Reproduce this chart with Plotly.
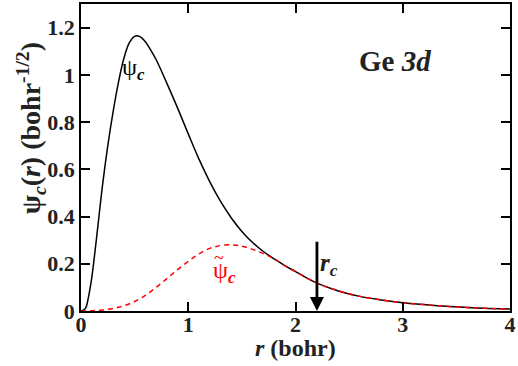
import plotly.graph_objects as go

# all-electron core wavefunction psi_c(r)
r_ae = [0, 0.04, 0.07, 0.1, 0.13, 0.16, 0.2, 0.25, 0.3, 0.35, 0.4, 0.45, 0.5, 0.55, 0.6, 0.65,
        0.7, 0.8, 0.9, 1.0, 1.1, 1.2, 1.3, 1.4, 1.5, 1.6, 1.7, 1.8, 1.9, 2.0, 2.1, 2.2, 2.4,
        2.6, 2.8, 3.0, 3.2, 3.4, 3.6, 3.8, 4.0]
psi_ae = [0, 0.01, 0.06, 0.14, 0.25, 0.37, 0.53, 0.70, 0.845, 0.97, 1.07, 1.135, 1.163, 1.162, 1.14, 1.105,
          1.065, 0.965, 0.86, 0.75, 0.643, 0.548, 0.465, 0.395, 0.337, 0.29, 0.252, 0.221, 0.192, 0.167, 0.141, 0.118, 0.085,
          0.062, 0.047, 0.035, 0.027, 0.02, 0.015, 0.011, 0.008]

# pseudized core wavefunction
r_ps = [0, 0.1, 0.2, 0.3, 0.4, 0.5, 0.6, 0.7, 0.8, 0.9, 1.0, 1.1, 1.2, 1.3, 1.4, 1.5, 1.6,
        1.7, 1.8, 1.9, 2.0, 2.1, 2.2, 2.4, 2.6, 2.8, 3.0, 3.2, 3.4, 3.6, 3.8, 4.0]
psi_ps = [0, 0.001, 0.004, 0.011, 0.022, 0.04, 0.066, 0.1, 0.137, 0.175, 0.21, 0.242, 0.265, 0.277, 0.28, 0.274, 0.261,
          0.243, 0.221, 0.192, 0.167, 0.141, 0.118, 0.085, 0.062, 0.047, 0.035, 0.027, 0.02, 0.015, 0.011, 0.008]

r_cut = 2.2
x_ticks = [0, 1, 2, 3, 4]
x_ticktext = ["0", "1", "2", "3", "4"]
y_ticks = [0, 0.2, 0.4, 0.6, 0.8, 1.0, 1.2]
y_ticktext = ["0", "0.2", "0.4", "0.6", "0.8", "1", "1.2"]

FONT = "Liberation Serif, Times New Roman, serif"
INK = "#222"

fig = go.Figure()
fig.add_trace(go.Scatter(x=r_ae, y=psi_ae, mode="lines", line=dict(color="black", width=1.5, shape="spline"),
                         showlegend=False))
fig.add_trace(go.Scatter(x=r_ps, y=psi_ps, mode="lines",
                         line=dict(color="#ff0000", width=1.5, dash="5px,4px", shape="spline"),
                         showlegend=False))

axis_common = dict(showline=True, linecolor="black", linewidth=1.8, mirror="ticks",
                   ticks="inside", ticklen=9, tickwidth=1.5, tickcolor="black",
                   showgrid=False, zeroline=False, ticklabeloverflow="allow",
                   tickfont=dict(family=FONT, size=22, color=INK, weight="bold"))

fig.update_xaxes(range=[0, 4], tickvals=x_ticks, ticktext=x_ticktext, ticklabelstandoff=-7, **axis_common)
fig.update_yaxes(range=[0, 1.3], tickvals=y_ticks, ticktext=y_ticktext, **axis_common)

ann = [
    dict(x=r_cut, y=0, ax=r_cut, ay=0.30, xref="x", yref="y", axref="x", ayref="y",
         showarrow=True, arrowhead=2, arrowsize=1, arrowwidth=2.8, arrowcolor="black", text=""),
    dict(x=0.49, y=1.023, xref="x", yref="y", showarrow=False,
         text="ψ<sub><b><i>c</i></b></sub>", font=dict(family=FONT, size=24, color="black")),
    dict(x=1.34, y=0.164, xref="x", yref="y", showarrow=False,
         text="ψ<sub><b><i>c</i></b></sub>", font=dict(family=FONT, size=24, color="#ff0000")),
    dict(x=1.29, y=0.226, xref="x", yref="y", showarrow=False,
         text="~", font=dict(family=FONT, size=18, color="#ff0000")),
    dict(x=2.31, y=0.198, xref="x", yref="y", showarrow=False,
         text="<b><i>r</i></b><sub><b><i>c</i></b></sub>", font=dict(family=FONT, size=25, color=INK)),
    dict(x=2.93, y=1.057, xref="x", yref="y", showarrow=False,
         text="<b>Ge <i>3d</i></b>", font=dict(family=FONT, size=29, color=INK)),
    dict(x=0.5, y=0, xref="paper", yref="paper", yshift=-37, xanchor="center", yanchor="middle",
         showarrow=False, text="<b><i>r</i> (bohr)</b>", font=dict(family=FONT, size=24, color=INK)),
    dict(x=0, y=0.595, xref="paper", yref="paper", xshift=-50, xanchor="center", yanchor="middle",
         showarrow=False, textangle=-90,
         text="<b>ψ<sub><i>c</i></sub>(<i>r</i>) (bohr<sup>-1/2</sup>)</b>",
         font=dict(family=FONT, size=28, color=INK)),
]
fig.update_layout(width=518, height=366, margin=dict(l=81, r=4, t=2, b=55),
                  plot_bgcolor="white", paper_bgcolor="white", annotations=ann)

fig.write_html("out.html")
